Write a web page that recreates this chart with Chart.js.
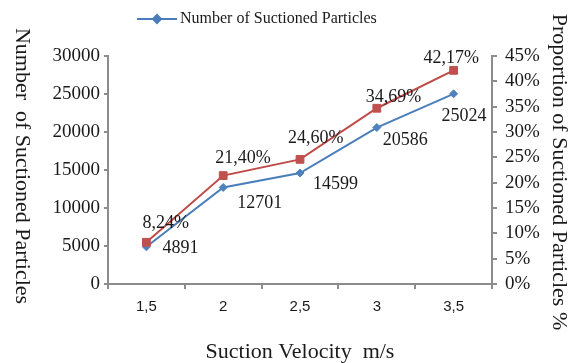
<!DOCTYPE html>
<html>
<head>
<meta charset="utf-8">
<script src="https://cdn.jsdelivr.net/npm/chart.js@4.4.0/dist/chart.umd.min.js"></script>
<style>
  html, body { margin: 0; padding: 0; background: #fff; }
  canvas { display: block; }
</style>
</head>
<body>
<canvas id="suctionChart" width="576" height="363"></canvas>
<script>
// Suction velocity (m/s), written the way the figure prints them
const velocities = ['1,5', '2', '2,5', '3', '3,5'];
const suctionedCount = [4891, 12701, 14599, 20586, 25024];
const suctionedShare = [8.24, 21.40, 24.60, 34.69, 42.17]; // percent
const countTicks = [0, 5000, 10000, 15000, 20000, 25000, 30000];
const shareTicks = [0, 5, 10, 15, 20, 25, 30, 35, 40, 45];

const serif = '"Liberation Serif", "Times New Roman", serif';
const axisGrey = '#8c8c8c';
const textColor = '#1a1a1a';
const blue = '#4A7EBB';
const red = '#BE4B48';

// nudges for the value labels, like the hand-placed ones in the figure
const countLabelShift = [[16, 1], [14, 16], [13, 11], [6, 13], [-12, 22]];
const shareLabelShift = [[-4, -19], [-8, -17], [-12, -21], [-11, -11], [-30, -12]];

function fmtShare(v) {
  return v.toFixed(2).replace('.', ',') + '%';
}

const extras = {
  id: 'extras',
  afterDatasetsDraw(chart) {
    const ctx = chart.ctx;
    ctx.save();
    ctx.font = '18px ' + serif;
    ctx.fillStyle = textColor;
    ctx.textAlign = 'left';
    ctx.textBaseline = 'middle';
    chart.getDatasetMeta(0).data.forEach((pt, i) => {
      const s = countLabelShift[i];
      ctx.fillText(String(suctionedCount[i]), pt.x + s[0], pt.y + s[1]);
    });
    chart.getDatasetMeta(1).data.forEach((pt, i) => {
      const s = shareLabelShift[i];
      ctx.fillText(fmtShare(suctionedShare[i]), pt.x + s[0], pt.y + s[1]);
    });
    ctx.restore();
  },
  afterDraw(chart) {
    const ctx = chart.ctx;
    ctx.save();
    ctx.fillStyle = textColor;

    // legend: only the count series is listed
    ctx.strokeStyle = blue;
    ctx.lineWidth = 2;
    ctx.beginPath();
    ctx.moveTo(137, 19);
    ctx.lineTo(177, 19);
    ctx.stroke();
    ctx.fillStyle = blue;
    Chart.helpers.drawPoint(ctx, { pointStyle: 'rectRot', radius: 4, rotation: 0, borderWidth: 1 }, 157, 19);
    ctx.fillStyle = textColor;
    ctx.font = '16px ' + serif;
    ctx.textAlign = 'left';
    ctx.textBaseline = 'middle';
    ctx.fillText('Number of Suctioned Particles', 180, 19);

    // both y titles read top to bottom
    ctx.font = '22px ' + serif;
    ctx.textAlign = 'center';
    ctx.save();
    ctx.translate(22, 166);
    ctx.rotate(Math.PI / 2);
    ctx.fillText('Number  of Suctioned Particles', 0, 0);
    ctx.restore();
    ctx.save();
    ctx.translate(559, 172);
    ctx.rotate(Math.PI / 2);
    ctx.fillText('Proportion of Suctioned Particles %', 0, 0);
    ctx.restore();

    ctx.restore();
  }
};

new Chart(document.getElementById('suctionChart').getContext('2d'), {
  type: 'line',
  data: {
    labels: velocities,
    datasets: [{
      label: 'Number of Suctioned Particles',
      data: suctionedCount,
      yAxisID: 'y',
      borderColor: blue,
      backgroundColor: '#4F81BD',
      borderWidth: 2,
      pointStyle: 'rectRot',
      pointRadius: 4,
      pointBorderWidth: 1,
      pointBorderColor: '#4F81BD',
      tension: 0,
      order: 1
    }, {
      label: 'Proportion of Suctioned Particles',
      data: suctionedShare,
      yAxisID: 'y1',
      borderColor: red,
      backgroundColor: '#C0504D',
      borderWidth: 2,
      pointStyle: 'rect',
      pointRadius: 5.5,
      pointBorderWidth: 1,
      pointBorderColor: '#C0504D',
      tension: 0,
      order: 0
    }]
  },
  options: {
    responsive: false,
    devicePixelRatio: 1,
    animation: false,
    layout: { padding: { left: 40, right: 24, top: 56, bottom: 0 } },
    plugins: {
      legend: { display: false },
      tooltip: { enabled: false }
    },
    scales: {
      x: {
        offset: true,
        afterFit(scale) { scale.height = 79; },
        grid: { offset: true, drawOnChartArea: false, color: axisGrey, tickLength: 5, lineWidth: 2 },
        border: { display: true, color: axisGrey, width: 2 },
        ticks: { color: textColor, padding: 9, font: { family: '"Liberation Sans", Arial, sans-serif', size: 15 } },
        title: {
          display: true,
          text: 'Suction Velocity  m/s',
          color: textColor,
          padding: { top: 0, bottom: 0 },
          font: { family: serif, size: 22, lineHeight: 1 }
        }
      },
      y: {
        position: 'left',
        min: countTicks[0],
        max: countTicks[countTicks.length - 1],
        afterFit(scale) { scale.width = 68; },
        grid: { drawOnChartArea: false, color: axisGrey, tickLength: 4, lineWidth: 2 },
        border: { display: true, color: axisGrey, width: 2 },
        ticks: {
          stepSize: countTicks[1] - countTicks[0],
          autoSkip: false,
          color: textColor,
          padding: 4,
          font: { family: serif, size: 19 },
          callback: v => String(v)
        }
      },
      y1: {
        position: 'right',
        min: shareTicks[0],
        max: shareTicks[shareTicks.length - 1],
        afterFit(scale) { scale.width = 60; },
        grid: { drawOnChartArea: false, color: axisGrey, tickLength: 5, lineWidth: 2 },
        border: { display: true, color: axisGrey, width: 2 },
        ticks: {
          stepSize: shareTicks[1] - shareTicks[0],
          autoSkip: false,
          color: textColor,
          padding: 8,
          font: { family: serif, size: 19 },
          callback: v => v + '%'
        }
      }
    }
  },
  plugins: [extras]
});
</script>
</body>
</html>
